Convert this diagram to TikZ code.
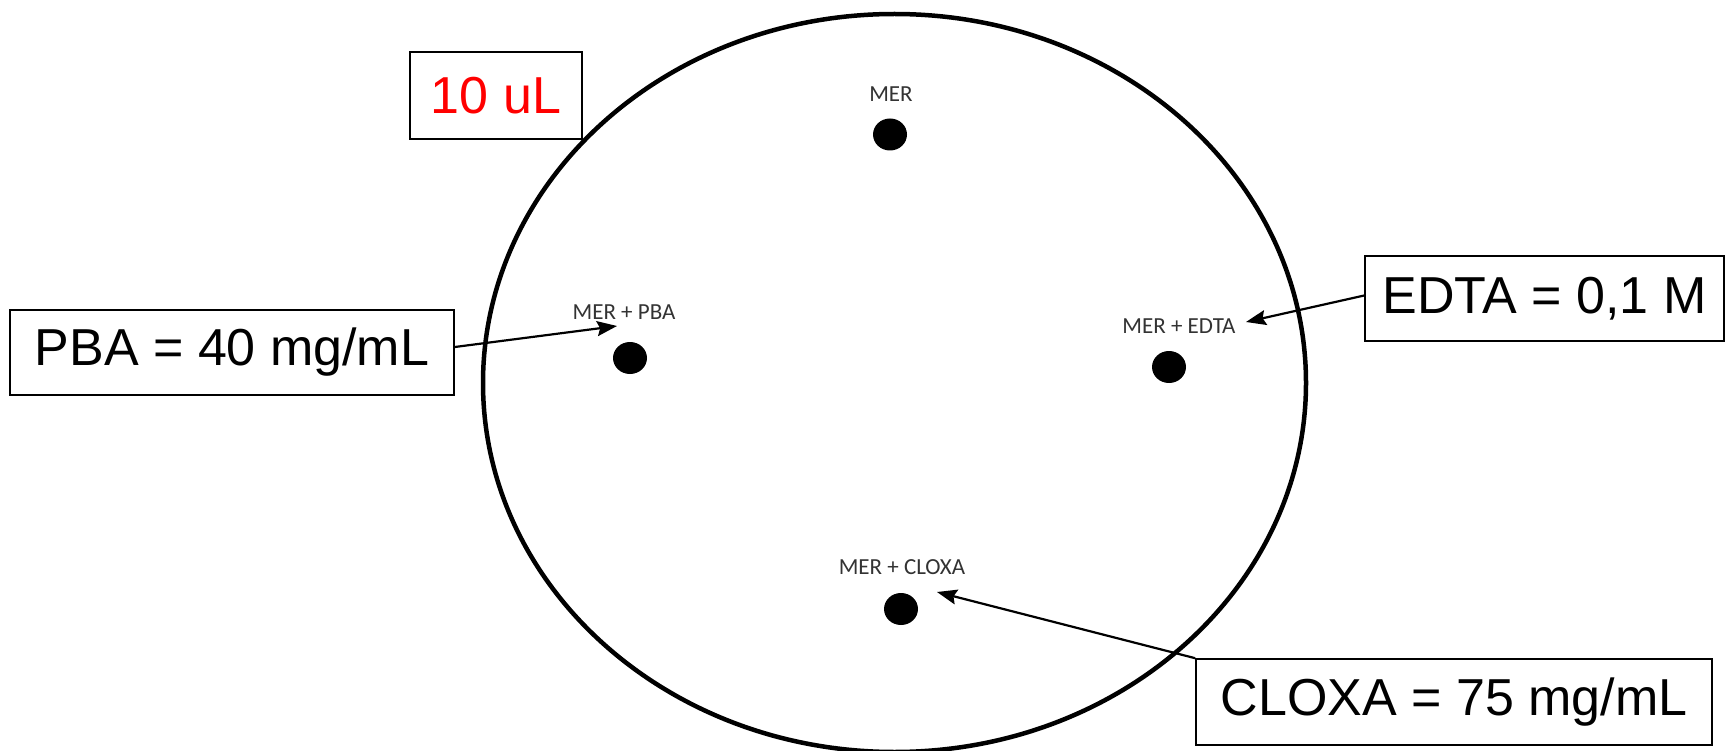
\documentclass[tikz,border=0pt]{standalone}
\usepackage{fontspec}
\setmainfont{Liberation Sans}
\newfontfamily\labfont{Carlito}
\usetikzlibrary{arrows.meta,shapes.geometric}
\begin{document}
\begin{tikzpicture}[x=1pt,y=-1pt,
  box/.style={draw=black,line width=1.6pt,font=\fontsize{52}{60}\selectfont,inner sep=0pt,anchor=center},
  lab/.style={font=\labfont\fontsize{23}{26}\selectfont,text=black!80,inner sep=0pt},
  dot/.style={ellipse,fill=black,inner sep=0pt,minimum width=34pt,minimum height=32pt},
  arr/.style={line width=2.2pt,-{Stealth[length=20pt,width=15pt,inset=3pt]}}]
\useasboundingbox (0,0) rectangle (1729,751);
\fill[white] (0,0) rectangle (1729,751);
% plate
\draw[line width=4.5pt] (894.5,383) ellipse [x radius=411.5, y radius=369];
% dots and labels
\node[dot] (dmer) at (890,134.5) {};
\node[lab] (lmer) at (891,94) {MER};
\node[dot] (dpba) at (630,358) {};
\node[lab] (lpba) at (624,312) {MER + PBA};
\node[dot] (dedta) at (1169,367) {};
\node[lab] (ledta) at (1179,326) {MER + EDTA};
\node[dot] (dclo) at (901,609) {};
\node[lab] (lclo) at (902,567) {MER + CLOXA};
% boxes
\node[box,minimum width=172pt,minimum height=87pt,text=red] (vol) at (496,95.5) {10 uL};
\node[box,minimum width=444pt,minimum height=85pt] (pba) at (232,352.5) {PBA = 40 mg/mL};
\node[box,minimum width=359pt,minimum height=85pt] (edta) at (1544.5,298.5) {EDTA = 0,1 M};
\node[box,minimum width=516pt,minimum height=86pt] (clo) at (1454,702) {CLOXA = 75 mg/mL};
% arrow tips
\coordinate (tpba) at (617,326);
\coordinate (tedta) at (1246,322);
\coordinate (tclo) at (937,592);
\draw[arr] ([yshift=5.5pt]pba.east) -- (tpba);
\draw[arr] ([yshift=3pt]edta.west) -- (tedta);
\draw[arr] (clo.north west) -- (tclo);
\end{tikzpicture}
\end{document}
